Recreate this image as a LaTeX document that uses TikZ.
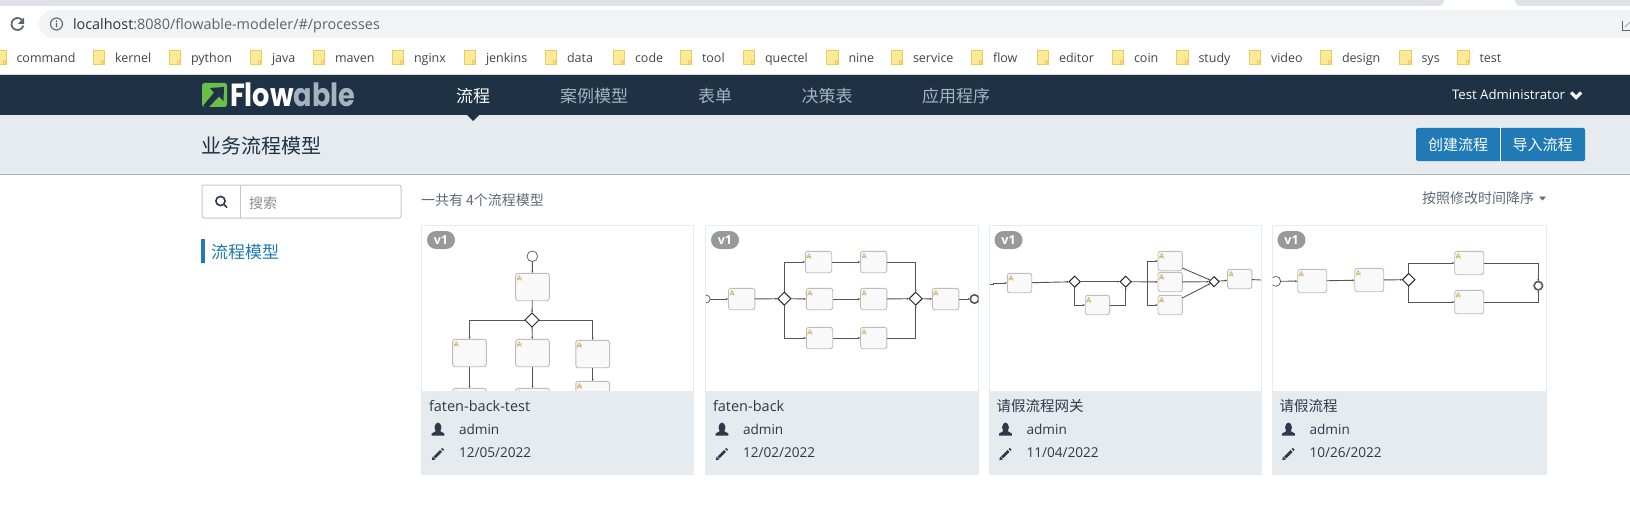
\documentclass[tikz,border=0pt]{standalone}
\usepackage{fontspec}
\setmainfont{Open Sans}
\newfontfamily\cjk{Noto Sans CJK SC}
\newfontfamily\logofont{Poppins}
\usetikzlibrary{arrows.meta,shapes.geometric,positioning}
\definecolor{navdark}{HTML}{1E3145}
\definecolor{subbar}{HTML}{E6EBF0}
\definecolor{subline}{HTML}{AAB2BB}
\definecolor{tabgray}{HTML}{DEE1E6}
\definecolor{urlbar}{HTML}{F1F3F4}
\definecolor{urlgray}{HTML}{5F6368}
\definecolor{flowblue}{HTML}{1F7AB5}
\definecolor{softtext}{HTML}{5F6B7A}
\definecolor{menutext}{HTML}{A5B3BF}
\definecolor{cardink}{HTML}{2C3A4A}
\definecolor{foldfill}{HTML}{FEE996}
\definecolor{foldline}{HTML}{F0CB5E}
\definecolor{taskline}{HTML}{BDBDBD}
\definecolor{taskfill}{HTML}{F9F9F9}
\definecolor{taskicon}{HTML}{D4B36A}
\definecolor{edgegray}{HTML}{555555}
\definecolor{cardline}{HTML}{E6EBF0}
\definecolor{logogreen}{HTML}{6ABF4B}
\tikzset{
  basic/.style = {inner sep=0pt, outer sep=0pt},
  folder/.style = {basic, rectangle, draw=foldline, fill=foldfill, line width=.8pt,
    minimum width=11.5, minimum height=14, path picture={
      \draw[foldline, line width=.7pt] ([shift={(-3,-3.5)}]path picture bounding box.south east) rectangle ([shift={(-1,0)}]path picture bounding box.south east);}},
  marktext/.style = {basic, text=urlgray!70!black, font=\fontsize{12.5}{15}\selectfont, text height=9pt, text depth=3pt, yshift=-2.5pt},
  menu/.style = {basic, text=menutext, font=\cjk\fontsize{17}{20}\selectfont},
  softlabel/.style = {basic, anchor=west, text=softtext, font=\cjk\fontsize{14}{17}\selectfont},
  btn/.style = {basic, rectangle, rounded corners=2pt, fill=flowblue, text=white, minimum height=33, font=\cjk\fontsize{15}{18}\selectfont},
  card/.style = {draw=cardline, line width=1pt},
  badge/.style = {basic, rectangle, rounded corners=9pt, minimum width=28, minimum height=18, fill=black!40, text=white, font=\bfseries\fontsize{12.5}{15}\selectfont},
  cardlabel/.style = {basic, anchor=west, text=cardink, font=\fontsize{13.6}{16}\selectfont, text height=9pt, text depth=3pt},
  task/.style = {basic, rectangle, draw=taskline, fill=taskfill, line width=.9pt, rounded corners=2.5pt, path picture={
      \fill[taskicon] ([shift={(3.5,3)}]path picture bounding box.north west) circle (1.1);
      \fill[taskicon] ([shift={(2,4.2)}]path picture bounding box.north west) rectangle ++(3,1.6);
      \fill[taskicon] ([shift={(1.3,5.6)}]path picture bounding box.north west) rectangle ++(4.4,.8);}},
  gate/.style = {basic, diamond, draw=black!85, fill=white, line width=1pt, minimum size=13},
  startev/.style = {basic, circle, draw=black!60, fill=white, line width=.8pt, minimum size=8},
  endev/.style = {basic, circle, draw=black!65, fill=white, line width=1.6pt, minimum size=8.5},
  flow/.style = {draw=edgegray, line width=.9pt, -{Latex[length=2.4pt,width=2pt]}},
  plainflow/.style = {draw=edgegray, line width=.9pt}
}

\begin{document}
\begin{tikzpicture}[x=1pt,y=-1pt]
  \useasboundingbox (0,0) rectangle (1630,532);
  \fill[white] (0,0) rectangle (1630,532);

% browser top
  \fill[tabgray] (0,0) rectangle (1630,6);
  \fill[white] (1438,6) .. controls (1443,6) and (1444,3) .. (1444.5,0) -- (1514.5,0) .. controls (1515,3) and (1516,6) .. (1521,6) -- cycle;
  \fill[urlbar] (1630,10) [rounded corners=14pt] -- (39,10) -- (39,38) [sharp corners] -- (1630,38) -- cycle;
  \draw[urlgray, line width=1.7pt] (22.7,21) arc[start angle=-30,end angle=-345,radius=6];
  \fill[urlgray] (24,17.5) -- (24,24) -- (17.8,24) -- cycle;
  \draw[urlgray, line width=1.1pt] (56.5,24) circle (6);
  \fill[urlgray] (55.8,23) rectangle (57.2,27.5) (55.8,20.5) rectangle (57.2,22);
  \node[basic, anchor=west, font=\fontsize{14.4}{17}\selectfont, text height=10pt, text depth=3pt] (urltext) at (73,26)
    {\textcolor{black!80}{localhost}\textcolor{urlgray}{:8080/flowable-modeler/\#/processes}};
  \draw[urlgray, line width=.9pt] (1622.7,20.7) |- (1630,30);
  \draw[black!35, line width=1pt] (1625,27) -- (1630,22);

% bookmarks
  \foreach \fx/\lbl in {-5.5/command,93/kernel,169/python,250/java,313/maven,392/nginx,464/jenkins,545/data,613/code,680/tool,743/quectel,826.5/nine,891/service,971/flow,1037/editor,1112/coin,1176.5/study,1249/video,1320/design,1399.5/sys,1457.5/test}{
    \node[folder, anchor=north west] (f\lbl) at (\fx,50) {};
    \node[marktext, right=10.5pt of f\lbl] (t\lbl) {\lbl};
  }
  \fill[black!15] (0,74) rectangle (1630,75);

% header
  \fill[navdark] (0,75) rectangle (1630,115);
  \fill[subbar] (0,115) rectangle (1630,174);
  \fill[subline] (0,174) rectangle (1630,175);
  \fill[navdark] (467,115) -- (479,115) -- (473,121) -- cycle;
  \fill[logogreen, rounded corners=2.5pt] (202,83) rectangle (227,107);
  \fill[navdark] (203,106) -- (214,92.5) -- (210,88) -- (224,87) -- (223.5,101) -- (219,96.5) -- (208,108) -- cycle;
  \node[basic, anchor=west, text=white, font=\logofont\bfseries\fontsize{32}{36}\selectfont] (logotext) at (230,95)
    {\scalebox{.85}[1]{Flow\textcolor{menutext}{able}}};
  \node[menu, text=white] (mprocess) at (473,96) {流程};
  \node[menu] (mcase) at (594,96) {案例模型};
  \node[menu] (mform) at (715,96) {表单};
  \node[menu] (mtable) at (827,96) {决策表};
  \node[menu] (mapp) at (956,96) {应用程序};
  \node[basic, anchor=west, text=white, font=\fontsize{13.2}{16}\selectfont] (user) at (1452,95) {Test Administrator};
  \draw[white, line width=3.2pt] (1571,92.5) -- (1576,97.5) -- (1581,92.5);
  \node[basic, anchor=west, text=navdark, font=\cjk\fontsize{20}{24}\selectfont] (pagetitle) at (201,146) {业务流程模型};
  \fill[flowblue] (1490,128) rectangle (1510,161);
  \node[btn, minimum width=84, anchor=west] (bcreate) at (1416,144.5) {创建流程};
  \node[btn, minimum width=85, right=0pt of bcreate] (bimport) {导入流程};
  \draw[white, line width=.8pt] (bcreate.north east) -- (bcreate.south east);

% side and toolbar
  \draw[black!22, line width=1pt, rounded corners=2pt] (202,185) rectangle (401,218);
  \draw[black!22, line width=1pt] (240,185) -- (240,218);
  \draw[cardink, line width=1.6pt] (220.5,201) circle (4.6) (224,204.5) -- (227,207.5);
  \node[softlabel, text=black!45] (search) at (249,203) {搜索};
  \fill[flowblue] (201,239) rectangle (205,263);
  \node[basic, anchor=west, text=flowblue, font=\cjk\fontsize{17}{20}\selectfont] (sidemodel) at (211,252) {流程模型};
  \node[softlabel] (total) at (421,200.5) {一共有 4个流程模型};
  \node[softlabel] (sorting) at (1422,198) {按照修改时间降序};
  \fill[softtext] (1539,196.5) -- (1546,196.5) -- (1542.5,200.5) -- cycle;

% cards
  \foreach \cx/\cw in {421.5/272,705.5/273,989/272,1272/274}
    \draw[card] (\cx,225) rectangle ++(\cw,249.5);

% first diagram
  \begin{scope}
    \clip (421.5,225) rectangle (694,390.5);
    \begin{scope}[every node/.style={task, minimum width=33.7, minimum height=27.4}]
      \node (a1) at (532.5,287) {};
      \node (a2) at (469.5,353) {};
      \node (a3) at (532.5,353) {};
      \node (a4) at (592.7,354) {};
      \node (a5) at (469.5,402) {};
      \node (a6) at (532.5,402) {};
      \node (a7) at (592.7,395) {};
    \end{scope}
    \node[startev, minimum size=10.6] (astart) at (532.3,256.3) {};
    \node[gate, minimum size=14] (agate) at (532,320) {};
    \draw[flow] (astart) -- (a1);
    \draw[flow] (a1) -- (agate);
    \draw[flow] (agate) -| (a2);
    \draw[flow] (agate) -- (a3);
    \draw[flow] (agate) -| (a4);
    \foreach \from/\to in {a2/a5,a3/a6,a4/a7}
      \draw[flow] (\from) -- (\to);
  \end{scope}

% second diagram
  \begin{scope}
    \clip (706,225) rectangle (978.5,390.5);
    \begin{scope}[every node/.style={task, minimum width=26.4, minimum height=21.4}]
      \node (b1) at (741.7,299) {};
      \node (b2) at (818.5,262) {};
      \node (b3) at (873.7,262) {};
      \node (b4) at (819.5,299) {};
      \node (b5) at (873.7,299) {};
      \node (b6) at (819.5,338) {};
      \node (b7) at (873.7,338) {};
      \node (b8) at (945.6,299) {};
    \end{scope}
    \node[startev, minimum size=7.8] (bstart) at (706.2,299) {};
    \node[gate] (bgate1) at (784.3,298.7) {};
    \node[gate] (bgate2) at (915.7,298.7) {};
    \node[endev, minimum size=8.5] (bend) at (974.5,299) {};
    \draw[flow] (bstart) -- (b1);
    \draw[flow] (b1) -- (bgate1);
    \draw[flow] (bgate1) |- (b2);
    \draw[flow] (bgate1) -- (b4);
    \draw[flow] (bgate1) |- (b6);
    \foreach \from/\to in {b2/b3,b4/b5,b6/b7}
      \draw[flow] (\from) -- (\to);
    \draw[flow] (b3) -| (bgate2);
    \draw[flow] (b5) -- (bgate2);
    \draw[flow] (b7) -| (bgate2);
    \draw[flow] (bgate2) -- (b8);
    \draw[flow] (b8) -- (bend);
  \end{scope}

% third diagram
  \begin{scope}
    \clip (989,225) rectangle (1261,390.5);
    \begin{scope}[every node/.style={task, minimum width=24.4, minimum height=19.4}]
      \node (c1) at (1019.5,283) {};
      \node (c2) at (1097.4,305) {};
      \node (c3) at (1170.2,261) {};
      \node (c4) at (1170.2,282) {};
      \node (c5) at (1170.2,305) {};
      \node (c6) at (1239.7,279) {};
    \end{scope}
    \coordinate (cin) at (990,284);
    \coordinate (cbar) at (1147,282);
    \coordinate (cout) at (1261,280);
    \node[gate, minimum size=11] (cgate1) at (1074.7,281.7) {};
    \node[gate, minimum size=11] (cgate2) at (1125.7,281.7) {};
    \node[gate, minimum size=10] (cgate3) at (1214,281.7) {};
    \draw[flow] (cin) -- ++(3.3,0) |- (c1);
    \draw[flow] (c1) -- (cgate1);
    \draw[flow] (cgate1) -- (cgate2);
    \draw[flow] (cgate1) |- (c2);
    \draw[flow] (c2) -| (cgate2);
    \draw[flow] (cgate2) -- (c4);
    \draw[flow] (cbar) |- (c3);
    \draw[flow] (cbar) |- (c5);
    \draw[flow] (c3.-30) -- (cgate3);
    \draw[flow] (c4) -- (cgate3);
    \draw[flow] (c5.30) -- (cgate3);
    \draw[flow] (cgate3) -- (c6);
    \draw[plainflow] (c6) -- (cout);
  \end{scope}

% fourth diagram
  \begin{scope}
    \clip (1272.7,225) rectangle (1546,390.5);
    \begin{scope}[every node/.style={task, minimum width=29, minimum height=23.4}]
      \node (d1) at (1312.2,281) {};
      \node (d2) at (1369.2,280) {};
      \node (d3) at (1469.2,263) {};
      \node (d4) at (1469.2,302) {};
    \end{scope}
    \node[startev, minimum size=10] (dstart) at (1275.7,281.3) {};
    \node[gate, minimum size=12.5] (dgate) at (1408.7,279.7) {};
    \node[endev] (dend) at (1538.3,285.7) {};
    \draw[flow] (dstart) -- (d1);
    \draw[flow] (d1) -- (d2);
    \draw[flow] (d2) -- (dgate);
    \draw[flow] (dgate) |- (d3);
    \draw[flow] (dgate) |- (d4);
    \draw[flow] (d3) -| (dend);
    \draw[flow] (d4) -| (dend);
  \end{scope}

% card footers
  \foreach \cx/\cw/\ttl/\dt in {421.5/272/{faten-back-test}/{12/05/2022},705.5/273/{faten-back}/{12/02/2022},989/272/{\cjk 请假流程网关}/{11/04/2022},1272/274/{\cjk 请假流程}/{10/26/2022}}{
    \fill[subbar] (\cx,390.5) rectangle ++(\cw,84);
    \node[badge] (v\cx) at (\cx+19.5,240) {v1};
    \node[cardlabel, font=\fontsize{14.5}{17}\selectfont] (t\cx) at (\cx+7.5,408) {\ttl};
    \node[cardlabel] (o\cx) at (\cx+37.5,431) {admin};
    \node[cardlabel] (m\cx) at (\cx+37.5,454.5) {\dt};
    \begin{scope}[shift={(\cx+16.5,429)}]
      \fill[cardink] (0,-1.5) ellipse (3.4 and 5);
      \fill[cardink] (-6.3,6.5) -- (-6.3,4.5) -- (-2,2) -- (2,2) -- (6.3,4.5) -- (6.3,6.5) -- cycle;
    \end{scope}
    \begin{scope}[shift={(\cx+16.5,454)}]
      \draw[cardink, line width=2.8pt] (-3.4,3.4) -- (3,-3);
      \draw[cardink, line width=2.8pt] (4,-4) -- (5.2,-5.2);
      \fill[cardink] (-6.2,6.2) -- (-5.4,2.5) -- (-2.5,5.4) -- cycle;
    \end{scope}
  }
\end{tikzpicture}
\end{document}
